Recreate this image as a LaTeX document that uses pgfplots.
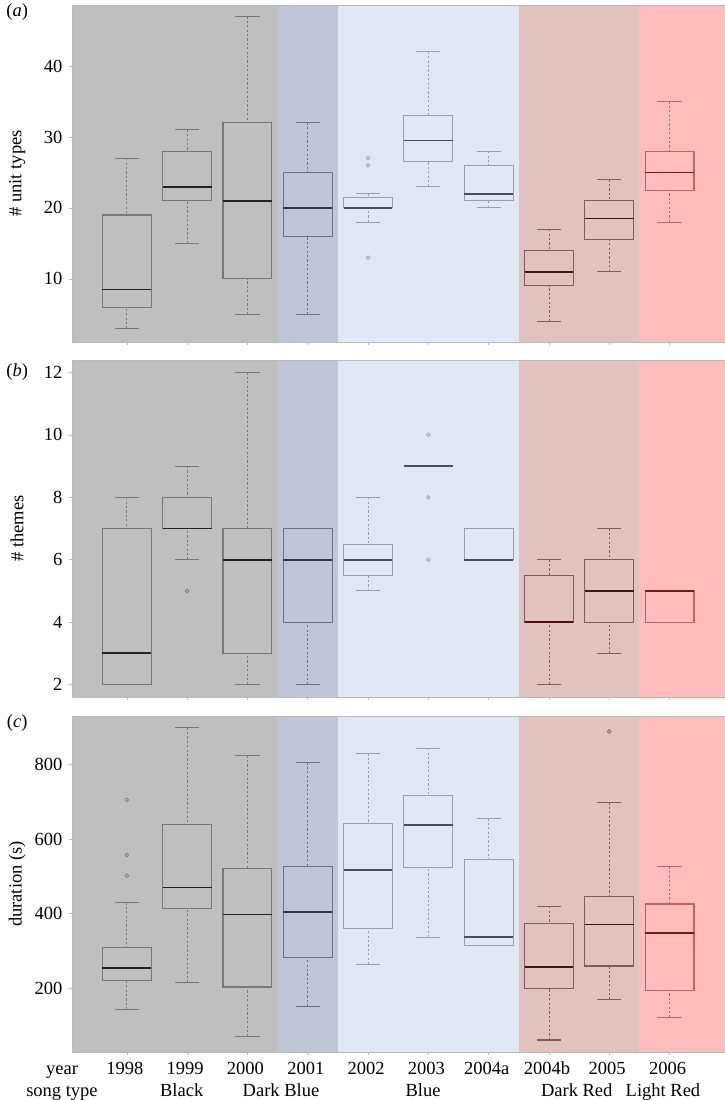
\documentclass[border=0pt]{standalone}
\usepackage{fontspec}
\setmainfont{Liberation Serif}
\usepackage{pgfplots}
\pgfplotsset{compat=1.18}
\usepgfplotslibrary{statistics}

\definecolor{bgGray}{RGB}{191,191,191}
\definecolor{bgDB}{RGB}{192,198,214}
\definecolor{bgLB}{RGB}{225,231,244}
\definecolor{bgDR}{RGB}{226,194,190}
\definecolor{bgLR}{RGB}{255,188,188}
\definecolor{edGray}{RGB}{120,120,120}
\definecolor{mdGray}{RGB}{35,35,35}
\definecolor{edDB}{RGB}{105,112,132}
\definecolor{mdDB}{RGB}{50,56,72}
\definecolor{edLB}{RGB}{150,158,176}
\definecolor{mdLB}{RGB}{70,78,96}
\definecolor{edDR}{RGB}{135,90,90}
\definecolor{mdDR}{RGB}{70,20,20}
\definecolor{edLR}{RGB}{190,100,100}
\definecolor{mdLR}{RGB}{120,25,25}

\newcommand\fs{\fontsize{18.5}{21}\selectfont}

\pgfplotsset{
  boxplot/draw direction=y,
  boxplot/box extend=0.81,
  boxplot/whisker extend=0.4,
  boxplot/draw/lower whisker/.code={%
    \draw[dash pattern=on 2.2pt off 2.2pt, line width=0.8pt]
      (boxplot box cs:\pgfplotsboxplotvalue{lower whisker},0.5) --
      (boxplot box cs:\pgfplotsboxplotvalue{lower quartile},0.5);
    \draw (boxplot whisker cs:\pgfplotsboxplotvalue{lower whisker},0) --
      (boxplot whisker cs:\pgfplotsboxplotvalue{lower whisker},1);
  },
  boxplot/draw/upper whisker/.code={%
    \draw[dash pattern=on 2.2pt off 2.2pt, line width=0.8pt]
      (boxplot box cs:\pgfplotsboxplotvalue{upper whisker},0.5) --
      (boxplot box cs:\pgfplotsboxplotvalue{upper quartile},0.5);
    \draw (boxplot whisker cs:\pgfplotsboxplotvalue{upper whisker},0) --
      (boxplot whisker cs:\pgfplotsboxplotvalue{upper whisker},1);
  },
  bG/.style={draw=edGray, line width=1.1pt, boxplot/every median/.style={draw=mdGray, line width=1.8pt}},
  bDB/.style={draw=edDB, line width=1.1pt, boxplot/every median/.style={draw=mdDB, line width=1.8pt}},
  bLB/.style={draw=edLB, line width=1.1pt, boxplot/every median/.style={draw=mdLB, line width=1.8pt}},
  bDR/.style={draw=edDR, line width=1.1pt, boxplot/every median/.style={draw=mdDR, line width=1.8pt}},
  bLR/.style={draw=edLR, line width=1.1pt, boxplot/every median/.style={draw=mdLR, line width=1.8pt}},
  outl/.style={only marks, mark=o, mark size=1.8pt, line width=0.7pt},
  panel/.style={
    scale only axis, width=653pt, height=337pt,
    xmin=-0.91, xmax=9.92, axis on top, clip=false,
    xtick={0,...,9}, tick align=outside, major tick length=3pt,
    xtick pos=bottom, ytick pos=left,
    tick style={gray!55, line width=0.6pt},
    axis line style={gray!55},
    ticklabel style={font=\fs},
    yticklabel style={xshift=-3pt},
    /pgf/number format/assume math mode=true,
    label style={font=\fs},
    ylabel style={at={(axis description cs:-0.084,0.5)}, anchor=center},
  },
}

\newcommand\bx[7]{\addplot[#1, boxplot prepared={draw position=#2, lower whisker=#3, lower quartile=#4, median=#5, upper quartile=#6, upper whisker=#7}] coordinates {};}

% #1 = ymin, #2 = ymax
\newcommand\bgs[2]{%
  \fill[bgGray] (axis cs:-0.91,#1) rectangle (axis cs:2.5,#2);
  \fill[bgDB] (axis cs:2.5,#1) rectangle (axis cs:3.5,#2);
  \fill[bgLB] (axis cs:3.5,#1) rectangle (axis cs:6.5,#2);
  \fill[bgDR] (axis cs:6.5,#1) rectangle (axis cs:8.5,#2);
  \fill[bgLR] (axis cs:8.5,#1) rectangle (axis cs:9.92,#2);
}

\begin{document}
\begin{tikzpicture}
\useasboundingbox (0,0) rectangle (725pt,1100pt);

% ---------------- (a) ----------------
\begin{axis}[panel, at={(72pt,758pt)}, anchor=south west,
  ymin=1.1, ymax=48.6, ytick={10,20,30,40}, xticklabels={},
  ylabel={\# unit types}]
\bgs{1.1}{48.6}
\bx{bG}{0}{3}{6}{8.5}{19}{27}
\bx{bG}{1}{15}{21}{23}{28}{31}
\bx{bG}{2}{5}{10}{21}{32}{47}
\bx{bDB}{3}{5}{16}{20}{25}{32}
\bx{bLB}{4}{18}{20}{20}{21.5}{22}
\bx{bLB}{5}{23}{26.5}{29.5}{33}{42}
\bx{bLB}{6}{20}{21}{22}{26}{28}
\bx{bDR}{7}{4}{9}{11}{14}{17}
\bx{bDR}{8}{11}{15.5}{18.5}{21}{24}
\bx{bLR}{9}{18}{22.5}{25}{28}{35}
\addplot[outl, edLB] coordinates {(4,27) (4,26) (4,13)};
\node[font=\fs] at (axis description cs:-0.084,0.979) {(\textit{a})};
\end{axis}

% ---------------- (b) ----------------
\begin{axis}[panel, at={(72pt,403pt)}, anchor=south west,
  ymin=1.6, ymax=12.4, ytick={2,4,...,12}, xticklabels={},
  ylabel={\# themes}]
\bgs{1.6}{12.4}
\bx{bG}{0}{2}{2}{3}{7}{8}
\bx{bG}{1}{6}{7}{7}{8}{9}
\bx{bG}{2}{2}{3}{6}{7}{12}
\bx{bDB}{3}{2}{4}{6}{7}{7}
\bx{bLB}{4}{5}{5.5}{6}{6.5}{8}
\bx{bLB}{5}{9}{9}{9}{9}{9}
\bx{bLB}{6}{6}{6}{6}{7}{7}
\bx{bDR}{7}{2}{4}{4}{5.5}{6}
\bx{bDR}{8}{3}{4}{5}{6}{7}
\bx{bLR}{9}{4}{4}{5}{5}{5}
\addplot[outl, edGray] coordinates {(1,5)};
\addplot[outl, edLB] coordinates {(5,10) (5,8) (5,6)};
\node[font=\fs] at (axis description cs:-0.084,0.964) {(\textit{b})};
\end{axis}

% ---------------- (c) ----------------
\begin{axis}[panel, at={(72pt,48pt)}, anchor=south west, height=336pt,
  ymin=30, ymax=929, ytick={200,400,600,800},
  xticklabels={1998,1999,2000,2001,2002,2003,2004a,2004b,2005,2006},
  xticklabel style={anchor=base, yshift=-19pt, xshift=-2pt},
  ylabel={duration (s)}]
\bgs{30}{929}
\bx{bG}{0}{144}{221}{254}{310}{430}
\bx{bG}{1}{216}{415}{470}{639}{898}
\bx{bG}{2}{71}{204}{398}{521}{823}
\bx{bDB}{3}{152}{283}{404}{526}{805}
\bx{bLB}{4}{265}{361}{517}{641}{829}
\bx{bLB}{5}{337}{523}{637}{716}{843}
\bx{bLB}{6}{315}{315}{338}{545}{655}
\bx{bDR}{7}{62}{200}{257}{374}{420}
\bx{bDR}{8}{170}{260}{371}{445}{698}
\bx{bLR}{9}{122}{195}{348}{426}{526}
\addplot[outl, edGray] coordinates {(0,704.5) (0,557) (0,502)};
\addplot[outl, edDR] coordinates {(8,887.5)};
\node[font=\fs] at (axis description cs:-0.084,0.979) {(\textit{c})};
\node[font=\fs, anchor=base] at (axis description cs:-0.0153,-0.0655) {year};
\node[font=\fs, anchor=base] at (axis description cs:-0.0153,-0.131) {song type};
\node[font=\fs, anchor=base] at (axis description cs:0.168,-0.131) {Black};
\node[font=\fs, anchor=base] at (axis description cs:0.320,-0.131) {Dark Blue};
\node[font=\fs, anchor=base] at (axis description cs:0.5375,-0.131) {Blue};
\node[font=\fs, anchor=base] at (axis description cs:0.773,-0.131) {Dark Red};
\node[font=\fs, anchor=base] at (axis description cs:0.905,-0.131) {Light Red};
\end{axis}
\end{tikzpicture}
\end{document}
